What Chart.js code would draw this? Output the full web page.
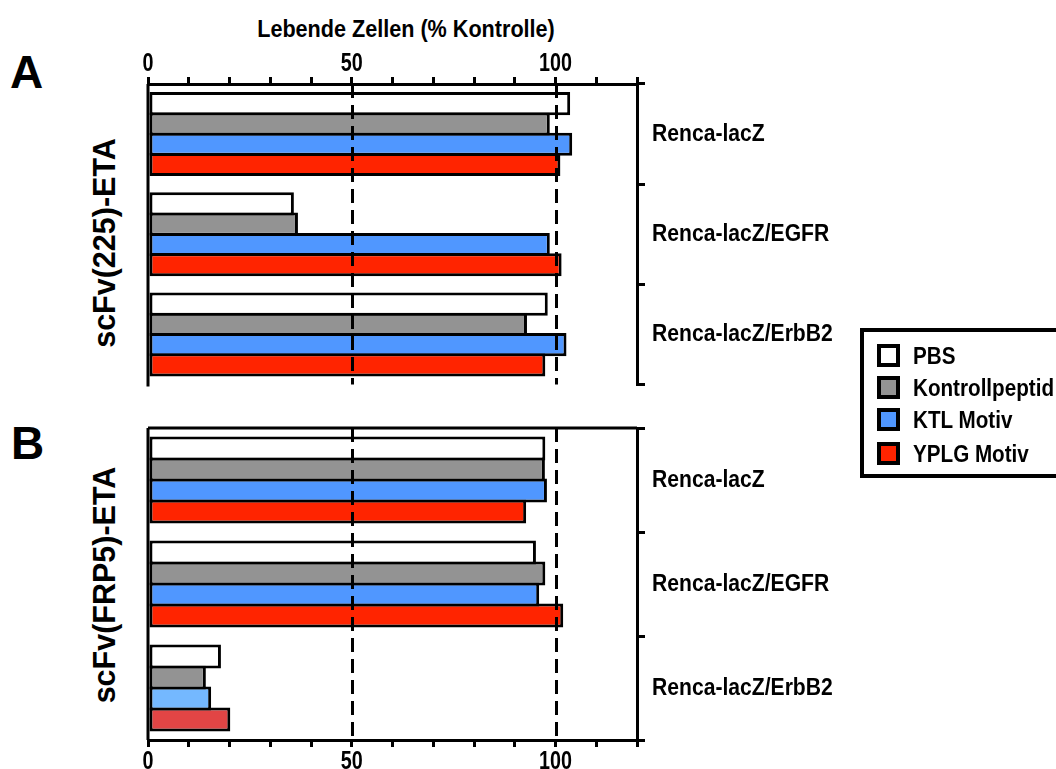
<!DOCTYPE html>
<html>
<head>
<meta charset="utf-8">
<script src="https://cdn.jsdelivr.net/npm/chart.js@4.4.1/dist/chart.umd.min.js"></script>
<style>
  body { margin: 0; width: 1056px; height: 769px; overflow: hidden; background: #fff; position: relative; font-family: 'Liberation Sans', Arial, sans-serif; }
  canvas { position: absolute; }
  .txt { position: absolute; white-space: nowrap; font-weight: bold; color: #000; }
  .panel { font-size: 46px; line-height: 46px; }
  .ylab { font-size: 30.5px; line-height: 30.5px; transform: translate(-50%, -50%) rotate(-90deg); }
  .legend { position: absolute; left: 860px; top: 328px; width: 220px; height: 150px; box-sizing: border-box; border: 4px solid #000; }
  .legend .sw { position: absolute; left: 13px; width: 23px; height: 23px; box-sizing: border-box; border: 4px solid #000; }
  .legend .lt { position: absolute; left: 49px; font-size: 24px; line-height: 24px; font-weight: bold; white-space: nowrap; transform: scaleX(0.86); transform-origin: left center; }
</style>
</head>
<body>

<div class="txt" style="left:406px; top:17px; font-size:24px; line-height:24px; transform:translateX(-50%) scaleX(0.9);">Lebende Zellen (% Kontrolle)</div>
<div class="txt panel" style="left:10px; top:49px;">A</div>
<div class="txt panel" style="left:11px; top:420px;">B</div>
<div class="txt ylab" style="left:104px; top:243px;">scFv(225)-ETA</div>
<div class="txt ylab" style="left:104px; top:585px;">scFv(FRP5)-ETA</div>

<canvas id="chartA" width="760" height="380" style="left:120px; top:26px;"></canvas>
<canvas id="chartB" width="760" height="372" style="left:120px; top:400px;"></canvas>

<div class="legend" id="legend"></div>

<script>
// ===================== DATOS =====================
const categories = ['Renca-lacZ', 'Renca-lacZ/EGFR', 'Renca-lacZ/ErbB2'];
const seriesNames = ['PBS', 'Kontrollpeptid', 'KTL Motiv', 'YPLG Motiv'];
const xTickLabels = [0, 50, 100];
const refLines = [50, 100];

// scFv(225)-ETA
const pbsA = [103.6, 35.8, 98.1];
const kontrollA = [98.6, 36.8, 93.0];
const ktlA = [104.1, 98.6, 102.7];
const yplgA = [101.2, 101.5, 97.5];

// scFv(FRP5)-ETA
const pbsB = [97.5, 95.2, 17.9];
const kontrollB = [97.4, 97.5, 14.2];
const ktlB = [97.9, 96.0, 15.5];
const yplgB = [92.8, 101.9, 20.2];

const seriesColors = ['#ffffff', '#939393', '#5097ff', '#ff2400'];
// last group of panel B is printed in lighter tones
const colorsB = [
  ['#ffffff', '#ffffff', '#ffffff'],
  ['#939393', '#939393', '#939393'],
  ['#5097ff', '#5097ff', '#74b8ff'],
  ['#ff2400', '#ff2400', '#e24545']
];

const FONT = "'Liberation Sans', Arial, sans-serif";

/* ===================== PLUGIN - TEXTO ESTRECHO ===================== */
// no condensed font installed: squeeze canvas text horizontally
const condensePlugin = {
  id: 'condense',
  beforeInit(chart) {
    const ctx = chart.ctx;
    const fill = ctx.fillText.bind(ctx);
    ctx.fillText = (text, x, y) => {
      const sx = /^\d+$/.test(text) ? 0.79 : 0.88;
      ctx.save();
      ctx.translate(x, y);
      ctx.scale(sx, 1);
      fill(text, 0, 0);
      ctx.restore();
    };
  }
};

/* ===================== PLUGIN - MARCO Y LINEAS ===================== */
const framePlugin = {
  id: 'frame',
  afterDatasetsDraw(chart, args, opts) {
    const { ctx, chartArea: { left, right, top, bottom }, scales: { x } } = chart;
    const line = (x1, y1, x2, y2) => { ctx.beginPath(); ctx.moveTo(x1, y1); ctx.lineTo(x2, y2); ctx.stroke(); };
    ctx.save();
    ctx.strokeStyle = '#000';
    ctx.lineWidth = 3;
    ctx.setLineDash([14, 7]);
    refLines.forEach(v => {
      const px = Math.round(x.getPixelForValue(v)) + 0.5;
      line(px, top, px, bottom);
    });
    ctx.setLineDash([]);
    line(left, top, left, bottom + (opts.leftExtra || 0));
    if (opts.closeTop) line(left, top, right, top);
    ctx.restore();
  }
};

function makeChart(id, data, colors, pos, sizes) {
  new Chart(document.getElementById(id), {
    type: 'bar',
    data: {
      labels: categories,
      datasets: seriesNames.map((name, i) => ({
        label: name,
        data: data[i],
        backgroundColor: colors[i],
        borderColor: '#000',
        borderWidth: 3,
        borderSkipped: false,
        categoryPercentage: 0.81,
        barPercentage: 1.14
      }))
    },
    options: {
      indexAxis: 'y',
      responsive: false,
      animation: false,
      layout: { padding: sizes.padding },
      plugins: {
        legend: { display: false },
        tooltip: { enabled: false },
        frame: sizes.frame
      },
      scales: {
        x: {
          type: 'linear',
          position: pos,
          min: 0,
          max: 120,
          ticks: {
            stepSize: 10,
            autoSkip: false,
            maxRotation: 0,
            padding: 0,
            color: '#000',
            font: { family: FONT, size: 25, weight: 'bold', lineHeight: sizes.tickLineHeight },
            callback: v => xTickLabels.includes(v) ? String(v) : ''
          },
          grid: { drawOnChartArea: false, tickLength: 7, tickWidth: 3, tickColor: '#000', color: '#000', lineWidth: 3 },
          border: { display: true, color: '#000', width: 3 },
          afterFit: s => { s.height = sizes.xHeight; }
        },
        y: {
          type: 'category',
          position: 'right',
          ticks: { color: '#000', padding: 7, font: { family: FONT, size: 24, weight: 'bold' } },
          grid: { offset: true, drawOnChartArea: false, tickLength: 8, tickWidth: 3, tickColor: '#000', color: '#000', lineWidth: 3 },
          border: { display: true, color: '#000', width: 3 },
          afterFit: s => { s.width = 243; }
        }
      }
    },
    plugins: [condensePlugin, framePlugin]
  });
}

makeChart('chartA', [pbsA, kontrollA, ktlA, yplgA], seriesColors, 'top',
  { padding: { left: 28, right: 0, top: 0, bottom: 10 }, xHeight: 58, tickLineHeight: 1.0, frame: { leftExtra: 2, closeTop: false } });

makeChart('chartB', [pbsB, kontrollB, ktlB, yplgB], colorsB, 'bottom',
  { padding: { left: 28, right: 0, top: 28, bottom: 0 }, xHeight: 32, tickLineHeight: 1.2, frame: { leftExtra: 0, closeTop: true } });

/* ===================== LEYENDA ===================== */
const legend = document.getElementById('legend');
const rowTops = [12, 44, 76, 110];
seriesNames.forEach((name, i) => {
  const sw = document.createElement('div');
  sw.className = 'sw';
  sw.style.top = rowTops[i] + 'px';
  sw.style.background = seriesColors[i];
  legend.appendChild(sw);
  const lt = document.createElement('div');
  lt.className = 'lt';
  lt.style.top = rowTops[i] + 'px';
  lt.textContent = name;
  legend.appendChild(lt);
});
</script>
</body>
</html>
